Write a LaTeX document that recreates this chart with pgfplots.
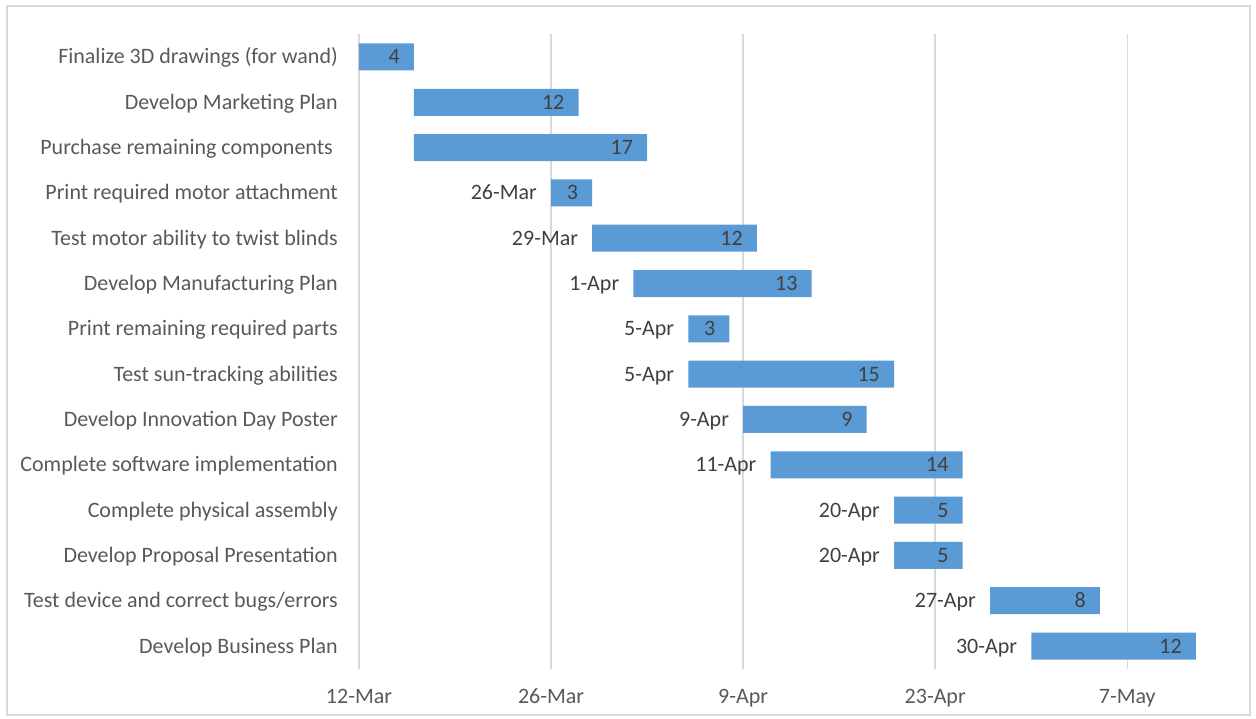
\documentclass[border=0pt]{standalone}
\usepackage{pgfplots}
\usepackage{pgfplotstable}
\pgfplotsset{compat=1.18}
\usepackage{fontspec}
\setmainfont{Carlito}
\definecolor{barblue}{HTML}{5B9BD5}
\definecolor{labgray}{HTML}{595959}
\definecolor{valgray}{HTML}{404040}
\definecolor{gridgray}{HTML}{D9D9D9}
\newcommand\labelfont{\fontsize{22}{26}\selectfont}

% row, start (days after 12-Mar), duration (days), start date label
\pgfplotstableread{
row start dur startlab
1   0     4   {}
2   4     12  {}
3   4     17  {}
4   14    3   26-Mar
5   17    12  29-Mar
6   20    13  1-Apr
7   24    3   5-Apr
8   24    15  5-Apr
9   28    9   9-Apr
10  30    14  11-Apr
11  39    5   20-Apr
12  39    5   20-Apr
13  46    8   27-Apr
14  49    12  30-Apr
}\tasks

\pgfplotsset{
  ganttframe/.style={
    at={(359pt,50.3pt)}, anchor=south west,
    scale only axis, width=850.6pt, height=634.4pt,
    xmin=0, xmax=62, ymin=0.5, ymax=14.5, y dir=reverse,
  },
}

\begin{document}
\begin{tikzpicture}[x=1pt,y=1pt]
\useasboundingbox (0,0) rectangle (1256,719);
\draw[gridgray, line width=1.5pt] (7,4) rectangle (1250,713);
\begin{axis}[
  ganttframe,
  xbar stacked, bar width=27pt,
  axis line style={draw=none},
  major tick length=0pt,
  xtick={0,14,28,42,56},
  xticklabels={12-Mar,26-Mar,9-Apr,23-Apr,7-May},
  ytick={1,...,14},
  yticklabels={
    Finalize 3D drawings (for wand),
    Develop Marketing Plan,
    Purchase remaining components\hspace*{5pt},
    Print required motor attachment,
    Test motor ability to twist blinds,
    Develop Manufacturing Plan,
    Print remaining required parts,
    Test sun-tracking abilities,
    Develop Innovation Day Poster,
    Complete software implementation,
    Complete physical assembly,
    Develop Proposal Presentation,
    Test device and correct bugs/errors,
    Develop Business Plan},
  xmajorgrids, grid style={gridgray, line width=1.5pt},
  tick label style={font=\labelfont, text=labgray, inner sep=0pt},
  xticklabel style={anchor=base, yshift=-35pt},
  yticklabel style={anchor=base east, yshift=-7pt, xshift=-21pt},
]
% invisible offset up to each task's start
\addplot[draw=none, fill=none] table[x=start, y=row] {\tasks};
% task duration
\addplot[draw=none, fill=barblue] table[x=dur, y=row] {\tasks};
\end{axis}

% data labels: start date left of each bar, duration inside its end
\begin{axis}[
  ganttframe, hide axis,
  point meta=explicit symbolic,
  nodes near coords,
  every node near coord/.style={font=\labelfont, text=valgray,
    anchor=base east, inner sep=0pt, yshift=-7pt, xshift=-14pt},
]
\addplot[draw=none, mark=none] table[x=start, y=row, meta=startlab] {\tasks};
\addplot[draw=none, mark=none] table[x expr=\thisrow{start}+\thisrow{dur}, y=row, meta=dur] {\tasks};
\end{axis}
\end{tikzpicture}
\end{document}
